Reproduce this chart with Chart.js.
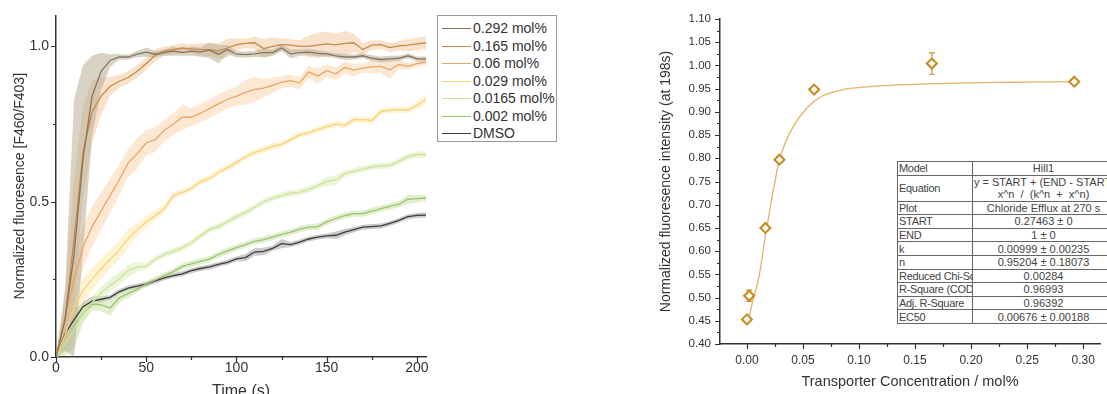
<!DOCTYPE html>
<html><head><meta charset="utf-8">
<script src="https://cdn.jsdelivr.net/npm/chart.js@4.4.0/dist/chart.umd.min.js"></script>
<style>
html,body{margin:0;padding:0;background:#fff;overflow:hidden;width:1107px;height:394px;position:relative;}
#wrapL{position:absolute;left:0;top:0;width:435px;height:404px;}
#wrapR{position:absolute;left:640px;top:0;width:467px;height:394px;}
#legend{position:absolute;left:437px;top:15px;width:120px;height:127px;border:1px solid #9a9a9a;box-sizing:border-box;font:14px "Liberation Sans",Arial,sans-serif;color:#333;padding-top:4px;background:#fff;}
#legend .row{height:17.5px;line-height:17.5px;white-space:nowrap;position:relative;}
#legend .ln{position:absolute;left:4px;top:8px;width:29px;height:0;border-top:1.3px solid #888;}
#legend .tx{position:absolute;left:35px;top:0;}
#fit{position:absolute;left:897px;top:161px;border-collapse:collapse;font:11px "Liberation Sans",Arial,sans-serif;color:#444;background:#fff;width:216px;table-layout:fixed;}
#fit td{border:1px solid #666;padding:0 0 0 1px;height:12.6px;line-height:12px;white-space:nowrap;overflow:hidden;}
#fit td.c1{letter-spacing:-0.3px;}
#fit td.c2{text-align:center;}
#fit tr.eq td{height:25px;}
#fit tr.eq td.c2{overflow:visible;}
</style>
</head><body>
<div id="wrapL"><canvas id="cL"></canvas></div>
<div id="legend"></div>
<div id="wrapR"><canvas id="cR"></canvas></div>
<table id="fit"><colgroup><col style="width:75px"><col style="width:141px"></colgroup><tbody id="fitBody"></tbody></table>
<script>
// ---------- Left panel data ----------
const timeS = [0,5,10,15,20,25,30,35,40,45,50,55,60,65,70,75,80,85,90,95,100,105,110,115,120,125,130,135,140,145,150,155,160,165,170,175,180,185,190,195,200,205];
const m292 = [0,0.12,0.33,0.64,0.84,0.92,0.955,0.966,0.966,0.975,0.982,0.975,0.98,0.985,0.98,0.985,0.982,0.988,0.975,0.99,0.975,0.974,0.976,0.98,0.98,0.995,0.976,0.98,0.982,0.978,0.976,0.97,0.966,0.966,0.97,0.962,0.958,0.96,0.962,0.97,0.96,0.96];
const e292 = [0,0.1,0.5,0.3,0.13,0.06,0.02,0.01,0.008,0.01,0.015,0.01,0.01,0.015,0.01,0.015,0.015,0.025,0.03,0.015,0.01,0.01,0.01,0.015,0.01,0.01,0.015,0.01,0.01,0.01,0.008,0.008,0.01,0.008,0.008,0.01,0.01,0.01,0.008,0.008,0.008,0.008];
const m165 = [0,0.12,0.38,0.66,0.79,0.84,0.872,0.888,0.9,0.92,0.945,0.972,0.985,0.99,0.995,0.992,0.99,0.99,0.985,0.995,1.006,1.01,1.012,0.993,1.0,1.006,1.004,1.0,1.0,1.004,1.008,1.005,1.01,1.012,0.99,1.004,1.006,0.996,1.002,1.004,1.008,1.012];
const e165 = [0,0.08,0.2,0.15,0.1,0.06,0.03,0.02,0.02,0.02,0.02,0.02,0.015,0.015,0.015,0.015,0.02,0.02,0.025,0.03,0.02,0.015,0.02,0.03,0.03,0.02,0.02,0.02,0.035,0.04,0.04,0.035,0.04,0.03,0.02,0.015,0.015,0.015,0.015,0.02,0.02,0.02];
const m06 = [0,0.13,0.25,0.355,0.42,0.47,0.52,0.57,0.625,0.655,0.69,0.70,0.73,0.75,0.772,0.772,0.785,0.80,0.815,0.83,0.84,0.852,0.862,0.866,0.875,0.885,0.89,0.882,0.918,0.905,0.922,0.912,0.932,0.924,0.93,0.934,0.936,0.925,0.942,0.936,0.945,0.95];
const e06 = [0,0.05,0.08,0.07,0.065,0.06,0.055,0.05,0.045,0.05,0.04,0.04,0.035,0.035,0.04,0.03,0.03,0.03,0.03,0.03,0.03,0.04,0.04,0.03,0.025,0.02,0.02,0.02,0.02,0.025,0.02,0.02,0.02,0.02,0.015,0.02,0.02,0.03,0.015,0.01,0.01,0.01];
const m029 = [0,0.07,0.16,0.215,0.25,0.285,0.315,0.345,0.382,0.41,0.435,0.455,0.478,0.52,0.53,0.543,0.565,0.575,0.595,0.61,0.626,0.645,0.658,0.668,0.678,0.685,0.70,0.715,0.722,0.733,0.742,0.75,0.746,0.765,0.764,0.762,0.79,0.795,0.797,0.795,0.81,0.83];
const e029 = [0,0.03,0.04,0.04,0.035,0.035,0.03,0.03,0.03,0.02,0.02,0.015,0.015,0.012,0.01,0.01,0.01,0.01,0.01,0.01,0.01,0.01,0.01,0.01,0.01,0.01,0.01,0.01,0.01,0.01,0.01,0.01,0.01,0.01,0.01,0.01,0.01,0.01,0.01,0.01,0.012,0.015];
const m0165 = [0,0.045,0.09,0.14,0.175,0.207,0.23,0.252,0.278,0.29,0.292,0.315,0.33,0.34,0.352,0.368,0.39,0.41,0.42,0.435,0.452,0.465,0.482,0.5,0.512,0.52,0.528,0.53,0.54,0.552,0.565,0.57,0.59,0.598,0.605,0.612,0.615,0.617,0.63,0.645,0.652,0.652];
const e0165 = [0,0.03,0.04,0.025,0.02,0.02,0.02,0.02,0.02,0.015,0.01,0.01,0.01,0.01,0.01,0.01,0.01,0.01,0.01,0.01,0.01,0.01,0.01,0.01,0.01,0.01,0.01,0.01,0.01,0.01,0.015,0.015,0.01,0.01,0.01,0.01,0.01,0.01,0.01,0.01,0.01,0.01];
const m002 = [0,0.045,0.095,0.14,0.17,0.168,0.158,0.19,0.205,0.218,0.235,0.248,0.262,0.275,0.292,0.30,0.308,0.315,0.33,0.342,0.352,0.362,0.372,0.378,0.386,0.395,0.402,0.412,0.418,0.42,0.435,0.446,0.455,0.462,0.462,0.47,0.478,0.485,0.492,0.508,0.51,0.512];
const e002 = [0,0.04,0.07,0.03,0.02,0.02,0.025,0.015,0.015,0.01,0.01,0.01,0.01,0.01,0.01,0.01,0.01,0.01,0.01,0.01,0.01,0.01,0.01,0.01,0.01,0.01,0.01,0.01,0.01,0.01,0.01,0.01,0.01,0.01,0.01,0.01,0.01,0.01,0.01,0.015,0.012,0.01];
const mDMSO = [0,0.075,0.12,0.162,0.18,0.186,0.192,0.21,0.222,0.228,0.235,0.245,0.255,0.262,0.268,0.278,0.285,0.29,0.298,0.305,0.316,0.32,0.338,0.34,0.35,0.365,0.362,0.37,0.38,0.386,0.39,0.392,0.402,0.41,0.418,0.42,0.422,0.43,0.44,0.452,0.456,0.457];
const eDMSO = [0,0.02,0.02,0.015,0.015,0.01,0.008,0.008,0.008,0.008,0.008,0.008,0.008,0.008,0.008,0.008,0.008,0.008,0.008,0.008,0.008,0.012,0.012,0.012,0.008,0.015,0.008,0.008,0.008,0.008,0.008,0.012,0.01,0.008,0.008,0.008,0.008,0.008,0.008,0.008,0.008,0.008];
const seriesLabels = ['0.292 mol%','0.165 mol%','0.06 mol%','0.029 mol%','0.0165 mol%','0.002 mol%','DMSO'];
const leftXMajor = [0,50,100,150,200];
const leftXMinor = [25,75,125,175];
const leftYMajor = [0,0.5,1.0];
const leftYMinor = [0.25,0.75];

// ---------- Right panel data ----------
const concX = [0,0.002,0.0165,0.029,0.06,0.165,0.292];
const concY = [0.453,0.504,0.65,0.797,0.948,1.004,0.965];
const concErr = [0.004,0.012,0.006,0.006,0.005,0.023,0.005];
const fitX = [0.002,0.006,0.0108,0.0167,0.0225,0.0283,0.034,0.043,0.0546,0.0663,0.0839,0.107,0.134,0.17,0.21,0.25,0.292];
const fitY = [0.458,0.50,0.545,0.636,0.717,0.789,0.832,0.875,0.911,0.933,0.947,0.954,0.958,0.961,0.963,0.964,0.965];
const rightXMajor = [0,0.05,0.10,0.15,0.20,0.25,0.30];
const rightXMinor = [0.025,0.075,0.125,0.175,0.225,0.275];
const rightYMajor = [0.40,0.45,0.50,0.55,0.60,0.65,0.70,0.75,0.80,0.85,0.90,0.95,1.00,1.05,1.10];
const rightYMinor = [0.425,0.475,0.525,0.575,0.625,0.675,0.725,0.775,0.825,0.875,0.925,0.975,1.025,1.075];
const fitTable = [
  ['Model','Hill1'],
  ['Equation','y = START + (END - START) *<br>x^n&nbsp; / &nbsp;(k^n &nbsp;+ &nbsp;x^n)'],
  ['Plot','Chloride Efflux at 270 s'],
  ['START','0.27463 ± 0'],
  ['END','1 ± 0'],
  ['k','0.00999 ± 0.00235'],
  ['n','0.95204 ± 0.18073'],
  ['Reduced Chi-Sq','0.00284'],
  ['R-Square (COD)','0.96993'],
  ['Adj. R-Square','0.96392'],
  ['EC50','0.00676 ± 0.00188']
];

// ---------- styles ----------
const lineColors = ['#857560','#cc8848','#eda462','#f7d27a','#cfe296','#9cc271','#3c3c3c'];
const bandColors = ['rgba(185,175,152,0.55)','rgba(240,190,140,0.45)','rgba(250,200,150,0.42)','rgba(255,228,160,0.45)','rgba(218,236,180,0.5)','rgba(196,224,160,0.5)','rgba(140,140,140,0.45)'];
const FONT = '"Liberation Sans", Arial, sans-serif';
const AX = '#333';

function tickPlugin(xMaj,xMin,yMaj,yMin){
  return {id:'tickMarks', afterDraw(chart){
    const {ctx, chartArea:a, scales:{x,y}} = chart;
    ctx.save(); ctx.strokeStyle=AX; ctx.lineWidth=1.2; ctx.beginPath();
    const xt=(v,l)=>{const p=Math.round(x.getPixelForValue(v))+0.5; ctx.moveTo(p,a.bottom); ctx.lineTo(p,a.bottom+l);};
    const yt=(v,l)=>{const p=Math.round(y.getPixelForValue(v))+0.5; ctx.moveTo(a.left,p); ctx.lineTo(a.left-l,p);};
    xMaj.forEach(v=>xt(v,5)); xMin.forEach(v=>xt(v,3));
    yMaj.forEach(v=>yt(v,5)); yMin.forEach(v=>yt(v,3));
    ctx.stroke(); ctx.restore();
  }};
}

// ---------- Left chart ----------
const means=[m292,m165,m06,m029,m0165,m002,mDMSO];
const errs=[e292,e165,e06,e029,e0165,e002,eDMSO];
const dsL=[];
means.forEach((m,i)=>{
  dsL.push({data:timeS.map((t,k)=>({x:t,y:m[k]+errs[i][k]})),borderWidth:0,pointRadius:0,fill:false,order:3,borderColor:'rgba(0,0,0,0)'});
  dsL.push({data:timeS.map((t,k)=>({x:t,y:Math.max(0,m[k]-errs[i][k])})),borderWidth:0,pointRadius:0,fill:'-1',backgroundColor:bandColors[i],order:3,borderColor:'rgba(0,0,0,0)'});
});
means.forEach((m,i)=>{
  dsL.push({data:timeS.map((t,k)=>({x:t,y:m[k]})),borderColor:lineColors[i],borderWidth:1.3,pointRadius:0,fill:false,order:1,tension:0});
});
new Chart(document.getElementById('cL'),{
  type:'line',
  data:{datasets:dsL},
  options:{
    responsive:true,maintainAspectRatio:false,animation:false,
    layout:{padding:{left:0,top:15,right:9,bottom:0}},
    plugins:{legend:{display:false},tooltip:{enabled:false}},
    scales:{
      x:{type:'linear',min:0,max:205,
        afterFit:s=>{s.height=404-357;},
        afterBuildTicks:s=>{s.ticks=leftXMajor.map(v=>({value:v}));},
        grid:{display:false,drawTicks:false},border:{color:AX,width:1.5},
        ticks:{padding:3,color:AX,font:{family:FONT,size:14},maxRotation:0,callback:v=>String(v)},
        title:{display:true,text:'Time (s)',color:AX,font:{family:FONT,size:16},padding:{top:0,bottom:3}}},
      y:{type:'linear',min:0,max:1.1,
        afterFit:s=>{s.width=56;},
        afterBuildTicks:s=>{s.ticks=leftYMajor.map(v=>({value:v}));},
        grid:{display:false,drawTicks:false},border:{color:AX,width:1.5},
        ticks:{padding:7,color:AX,font:{family:FONT,size:14},callback:v=>Number(v).toFixed(1)},
        title:{display:true,text:'Normalized fluoresence [F460/F403]',color:AX,font:{family:FONT,size:14},padding:{top:12,bottom:0}}}
    }
  },
  plugins:[tickPlugin(leftXMajor,leftXMinor,leftYMajor,leftYMinor)]
});

// legend
const lg=document.getElementById('legend');
seriesLabels.forEach((s,i)=>{
  const r=document.createElement('div'); r.className='row';
  r.innerHTML='<span class="ln" style="border-top-color:'+lineColors[i]+'"></span><span class="tx">'+s+'</span>';
  lg.appendChild(r);
});

// ---------- Right chart ----------
const errBars={id:'errBars',beforeDatasetsDraw(chart){
  const {ctx,scales:{x,y}}=chart;
  ctx.save(); ctx.strokeStyle='#c8922a'; ctx.lineWidth=1.2; ctx.beginPath();
  concX.forEach((cx,i)=>{
    const e=concErr[i]; if(!e) return;
    const px=x.getPixelForValue(cx), p1=y.getPixelForValue(concY[i]+e), p2=y.getPixelForValue(concY[i]-e);
    ctx.moveTo(px,p1); ctx.lineTo(px,p2);
    ctx.moveTo(px-3,p1); ctx.lineTo(px+3,p1);
    ctx.moveTo(px-3,p2); ctx.lineTo(px+3,p2);
  });
  ctx.stroke(); ctx.restore();
}};
new Chart(document.getElementById('cR'),{
  type:'scatter',
  data:{datasets:[
    {type:'scatter',data:concX.map((v,i)=>({x:v,y:concY[i]})),pointStyle:'rectRot',pointRadius:5,borderWidth:2,borderColor:'#c48a22',backgroundColor:'#fff8ea',order:1},
    {type:'line',data:fitX.map((v,i)=>({x:v,y:fitY[i]})),borderColor:'#e2b468',borderWidth:1.3,pointRadius:0,fill:false,cubicInterpolationMode:'monotone',order:2}
  ]},
  options:{
    responsive:true,maintainAspectRatio:false,animation:false,
    layout:{padding:{left:0,top:19,right:0,bottom:0}},
    plugins:{legend:{display:false},tooltip:{enabled:false}},
    scales:{
      x:{type:'linear',min:-0.024,max:0.315,
        afterFit:s=>{s.height=394-344;},
        afterBuildTicks:s=>{s.ticks=rightXMajor.map(v=>({value:v}));},
        grid:{display:false,drawTicks:false},border:{color:AX,width:1.5},
        ticks:{padding:9,color:AX,font:{family:FONT,size:12},maxRotation:0,callback:v=>Number(v).toFixed(2)},
        title:{display:true,text:'Transporter Concentration / mol%',color:AX,font:{family:FONT,size:14.5},padding:{top:0,bottom:3}}},
      y:{type:'linear',min:0.40,max:1.10,
        afterFit:s=>{s.width=80;},
        afterBuildTicks:s=>{s.ticks=rightYMajor.map(v=>({value:v}));},
        grid:{display:false,drawTicks:false},border:{color:AX,width:1.5},
        ticks:{padding:9,color:AX,font:{family:FONT,size:11.5},callback:v=>Number(v).toFixed(2)},
        title:{display:true,text:'Normalized fluoresence intensity (at 198s)',color:AX,font:{family:FONT,size:14},padding:{top:18,bottom:0}}}
    }
  },
  plugins:[tickPlugin(rightXMajor,rightXMinor,rightYMajor,rightYMinor),errBars]
});

// fit table
const tb=document.getElementById('fitBody');
fitTable.forEach(r=>{
  const tr=document.createElement('tr'); if(r[0]==='Equation') tr.className='eq';
  tr.innerHTML='<td class="c1">'+r[0]+'</td><td class="c2">'+r[1]+'</td>';
  tb.appendChild(tr);
});
</script>
</body></html>
